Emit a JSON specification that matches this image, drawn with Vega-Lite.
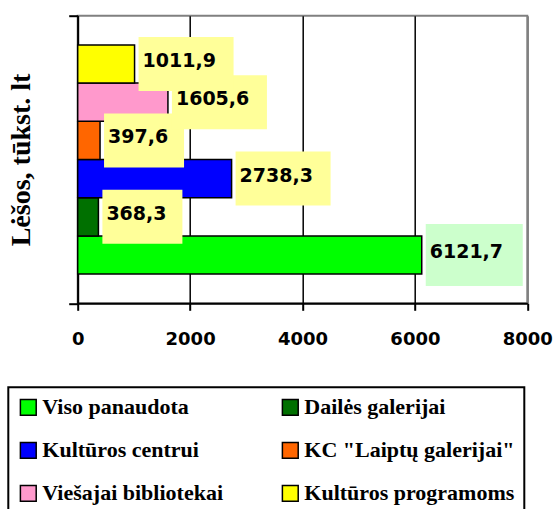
{
  "$schema": "https://vega.github.io/schema/vega-lite/v6.json",
  "width": 449.6,
  "height": 287.6,
  "autosize": {"type": "none"},
  "padding": {"left": 77.7, "top": 15.7, "right": 27.7, "bottom": 205.7},
  "background": "white",
  "config": {
    "view": {"stroke": "#808080", "strokeWidth": 2},
    "legend": {
      "strokeWidth": 2,
      "labelFont": "Liberation Serif",
      "labelFontWeight": "bold",
      "labelFontSize": 22,
      "labelColor": "black",
      "labelLimit": 300
    }
  },
  "data": {
    "values": [
      {"g": "A", "series": "Viso panaudota", "value": 6121.7, "label": "6121,7"},
      {"g": "A", "series": "Dailės galerijai", "value": 368.3, "label": "368,3"},
      {"g": "A", "series": "Kultūros centrui", "value": 2738.3, "label": "2738,3"},
      {"g": "A", "series": "KC \"Laiptų galerijai\"", "value": 397.6, "label": "397,6"},
      {"g": "A", "series": "Viešajai bibliotekai", "value": 1605.6, "label": "1605,6"},
      {"g": "A", "series": "Kultūros programoms", "value": 1011.9, "label": "1011,9"}
    ]
  },
  "encoding": {
    "y": {
      "field": "g",
      "type": "nominal",
      "scale": {"paddingInner": 0, "paddingOuter": 0},
      "axis": {
        "title": "Lėšos, tūkst. lt",
        "labels": false,
        "tickBand": "extent",
        "ticks": true,
        "tickSize": 9,
        "tickColor": "black",
        "tickWidth": 2,
        "domainColor": "black",
        "domainWidth": 2,
        "grid": false,
        "titleFont": "Liberation Serif",
        "titleFontSize": 28,
        "titleFontWeight": "bold",
        "titleColor": "black",
        "titlePadding": 32
      }
    },
    "yOffset": {
      "field": "series",
      "type": "nominal",
      "sort": ["Kultūros programoms", "Viešajai bibliotekai", "KC \"Laiptų galerijai\"", "Kultūros centrui", "Dailės galerijai", "Viso panaudota"],
      "scale": {"paddingInner": 0, "paddingOuter": 0.765}
    },
    "x": {
      "field": "value",
      "type": "quantitative",
      "stack": null,
      "scale": {"domain": [0, 8000], "nice": false},
      "axis": {
        "values": [0, 2000, 4000, 6000, 8000],
        "format": "d",
        "title": null,
        "domainColor": "black",
        "domainWidth": 2,
        "tickColor": "black",
        "tickWidth": 2,
        "tickSize": 7,
        "labelFont": "DejaVu Sans",
        "labelFontWeight": "bold",
        "labelFontSize": 18,
        "labelColor": "black",
        "labelPadding": 20,
        "labelFlush": false,
        "labelOverlap": false,
        "grid": true,
        "gridColor": {"condition": {"test": "datum.value == 8000", "value": "#808080"}, "value": "black"},
        "gridWidth": 1.5,
        "gridOpacity": 1
      }
    }
  },
  "layer": [
    {
      "mark": {"type": "bar", "stroke": "black", "strokeWidth": 1.5, "opacity": 1},
      "encoding": {
        "color": {
          "field": "series",
          "type": "nominal",
          "scale": {
            "domain": ["Viso panaudota", "Kultūros centrui", "Viešajai bibliotekai", "Dailės galerijai", "KC \"Laiptų galerijai\"", "Kultūros programoms"],
            "range": ["#00FF00", "#0000FF", "#FF99CC", "#007000", "#FF6600", "#FFFF00"]
          },
          "legend": {
            "title": null,
            "orient": "none",
            "legendX": -69.4,
            "legendY": 371.6,
            "columns": 2,
            "columnPadding": 56,
            "rowPadding": 21,
            "padding": 9,
            "strokeColor": "black",
            "fillColor": "white",
            "symbolType": "square",
            "symbolSize": 250,
            "symbolStrokeColor": "black",
            "symbolStrokeWidth": 1.5,
            "symbolOpacity": 1,
            "labelFont": "Liberation Serif",
            "labelFontWeight": "bold",
            "labelFontSize": 22,
            "labelColor": "black",
            "labelOffset": 3,
            "labelLimit": 300
          }
        }
      }
    },
    {
      "transform": [{"filter": "datum.value < 1000"}],
      "mark": {"type": "bar", "fill": "#FFFF99", "height": 54, "xOffset": 4, "x2Offset": 84},
      "encoding": {"x2": {"field": "value"}}
    },
    {
      "transform": [{"filter": "datum.value >= 1000 && datum.series != 'Viso panaudota' && datum.series != 'Kultūros programoms'"}],
      "mark": {"type": "bar", "fill": "#FFFF99", "height": 54, "xOffset": 4, "x2Offset": 99},
      "encoding": {"x2": {"field": "value"}}
    },
    {
      "transform": [{"filter": "datum.series == 'Viso panaudota'"}],
      "mark": {"type": "bar", "fill": "#CCFFCC", "height": 62, "xOffset": 4, "x2Offset": 101},
      "encoding": {"x2": {"field": "value"}}
    },
    {
      "transform": [{"filter": "datum.series != 'Kultūros programoms'"}],
      "mark": {"type": "text", "align": "left", "baseline": "middle", "dx": 8, "dy": -3, "font": "DejaVu Sans", "fontWeight": "bold", "fontSize": 19, "fill": "black"},
      "encoding": {"text": {"field": "label"}}
    },
    {
      "transform": [{"filter": "datum.series == 'Kultūros programoms'"}],
      "mark": {"type": "bar", "fill": "#FFFF99", "height": 54, "xOffset": 4, "x2Offset": 99},
      "encoding": {"x2": {"field": "value"}}
    },
    {
      "transform": [{"filter": "datum.series == 'Kultūros programoms'"}],
      "mark": {"type": "text", "align": "left", "baseline": "middle", "dx": 8, "dy": -3, "font": "DejaVu Sans", "fontWeight": "bold", "fontSize": 19, "fill": "black"},
      "encoding": {"text": {"field": "label"}}
    }
  ]
}
